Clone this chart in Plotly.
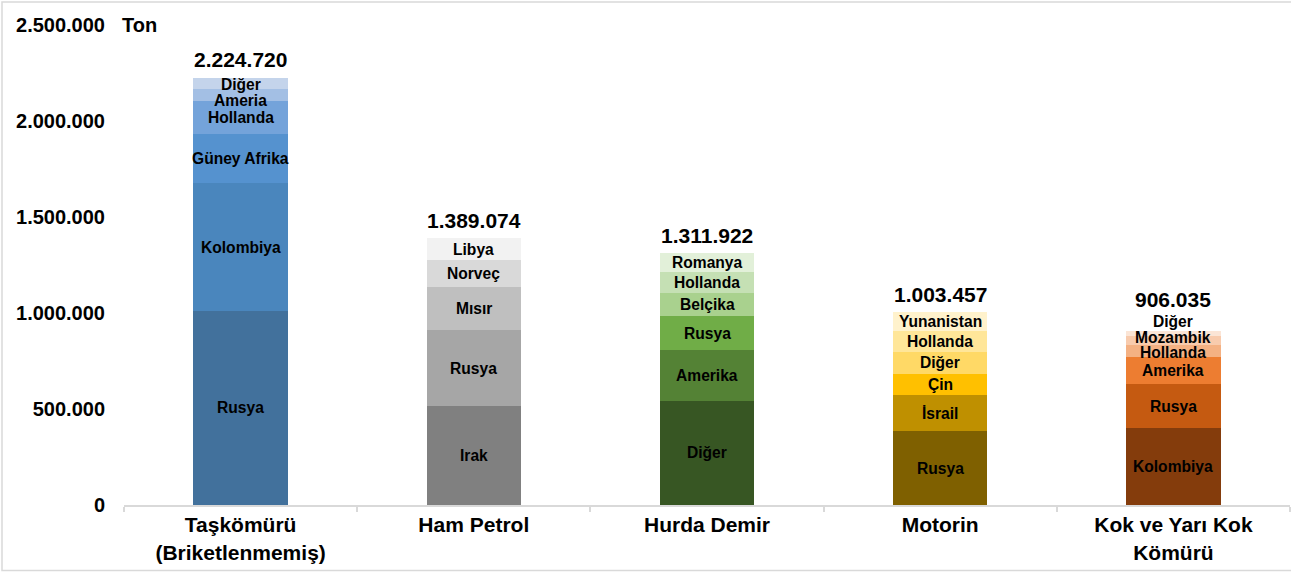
import plotly.graph_objects as go

# ---------------- data ----------------
categories = ["Taşkömürü<br>(Briketlenmemiş)", "Ham Petrol", "Hurda Demir", "Motorin", "Kok ve Yarı Kok<br>Kömürü"]
totals = [2224720, 1389074, 1311922, 1003457, 906035]

taskomuru_countries = ["Rusya", "Kolombiya", "Güney Afrika", "Hollanda", "Ameria", "Diğer"]
taskomuru_values = [1011000, 665000, 257000, 169000, 66500, 56220]

hampetrol_countries = ["Irak", "Rusya", "Mısır", "Norveç", "Libya"]
hampetrol_values = [516000, 394000, 227000, 137000, 115074]

hurda_countries = ["Diğer", "Amerika", "Rusya", "Belçika", "Hollanda", "Romanya"]
hurda_values = [544000, 262000, 178000, 119000, 110000, 98922]

motorin_countries = ["Rusya", "İsrail", "Çin", "Diğer", "Hollanda", "Yunanistan"]
motorin_values = [383000, 189000, 110000, 117000, 105000, 99457]

kok_countries = ["Kolombiya", "Rusya", "Amerika", "Hollanda", "Mozambik", "Diğer"]
kok_values = [400000, 228000, 145000, 58000, 47000, 28035]

y_ticks = [0, 500000, 1000000, 1500000, 2000000, 2500000]
unit_label = "Ton"

# ---------------- styles ----------------
palettes = [
    ["#42719C", "#4A86BD", "#5592CF", "#74A3DA", "#A3BFE4", "#C4D4EB"],
    ["#808080", "#A6A6A6", "#BFBFBF", "#D9D9D9", "#F2F2F2"],
    ["#375623", "#548235", "#70AD47", "#A9D18E", "#C5E0B4", "#E2F0D9"],
    ["#7F6000", "#BF9000", "#FFC000", "#FFD966", "#FFE699", "#FFF2CC"],
    ["#843C0C", "#C55A11", "#ED7D31", "#F4B183", "#F8CBAD", "#FBE5D6"],
]
FONT = "Arial, Liberation Sans, sans-serif"

# label nudges (pixels, + = up) for crowded thin segments: (bar index, segment index) -> shift
label_nudge = {(0, 4): -5, (0, 5): -1, (4, 3): -1, (4, 4): 3}

groups = [
    (taskomuru_countries, taskomuru_values),
    (hampetrol_countries, hampetrol_values),
    (hurda_countries, hurda_values),
    (motorin_countries, motorin_values),
    (kok_countries, kok_values),
]

fig = go.Figure()
annotations = []

for ci, (cat, (names, vals)) in enumerate(zip(categories, groups)):
    base = 0
    for si, (name, v) in enumerate(zip(names, vals)):
        fig.add_trace(go.Bar(
            x=[cat], y=[v], name=name, width=0.405,
            marker=dict(color=palettes[ci][si], line=dict(width=0)),
            showlegend=False, hoverinfo="x+y+name",
        ))
        yref_val = base + v / 2
        yshift = label_nudge.get((ci, si), 0)
        if ci == 4 and si == len(names) - 1:
            # thin top segment: label sits above the bar
            yref_val = base + v
            yshift = 10
        annotations.append(dict(x=cat, y=yref_val, xref="x", yref="y", text=name,
                                showarrow=False, yanchor="middle", yshift=yshift,
                                font=dict(family=FONT, size=15.6, color="black", weight="bold")))
        base += v
    shift = 32 if ci == 4 else 18
    annotations.append(dict(x=cat, y=totals[ci], xref="x", yref="y",
                            text=f"{totals[ci]:,}".replace(",", "."),
                            showarrow=False, yanchor="middle", yshift=shift,
                            font=dict(family=FONT, size=21, color="black", weight="bold")))

# unit label next to top tick
annotations.append(dict(x=-0.0035, y=y_ticks[-1], xref="paper", yref="y", text=unit_label,
                        showarrow=False, xanchor="left", yanchor="middle",
                        font=dict(family=FONT, size=20, color="black", weight="bold")))

L, R, T, B = 124, 1, 25, 67
W, H = 1291, 572
pw, ph = W - L - R, H - T - B

fig.update_layout(
    barmode="stack",
    width=W, height=H,
    margin=dict(l=L, r=R, t=T, b=B, pad=0),
    paper_bgcolor="white", plot_bgcolor="white",
    separators=",.",
    font=dict(family=FONT, color="black"),
    annotations=annotations,
    xaxis=dict(
        type="category", tickson="boundaries", ticks="outside", ticklen=5,
        tickcolor="#D9D9D9", tickwidth=1.5, showline=True, linecolor="#D9D9D9", linewidth=2,
        showgrid=False, zeroline=False,
        tickfont=dict(family=FONT, size=21, color="black", weight="bold"),
    ),
    yaxis=dict(
        range=[0, y_ticks[-1]], tickvals=y_ticks, tickformat=",d",
        showgrid=False, showline=False, zeroline=False, ticks="",
        ticklabelstandoff=18,
        tickfont=dict(family=FONT, size=20, color="black", weight="bold"),
    ),
    shapes=[dict(type="rect", xref="paper", yref="paper",
                 x0=(2 - L) / pw, x1=(W + 4 - L) / pw,
                 y0=(T + ph - (H - 1.5)) / ph, y1=(T + ph - 2) / ph,
                 line=dict(color="#D9D9D9", width=1.5), fillcolor="rgba(0,0,0,0)", layer="below")],
)

fig.write_html("out.html", config={"displayModeBar": False},
               post_script="document.body.style.margin='0';")
